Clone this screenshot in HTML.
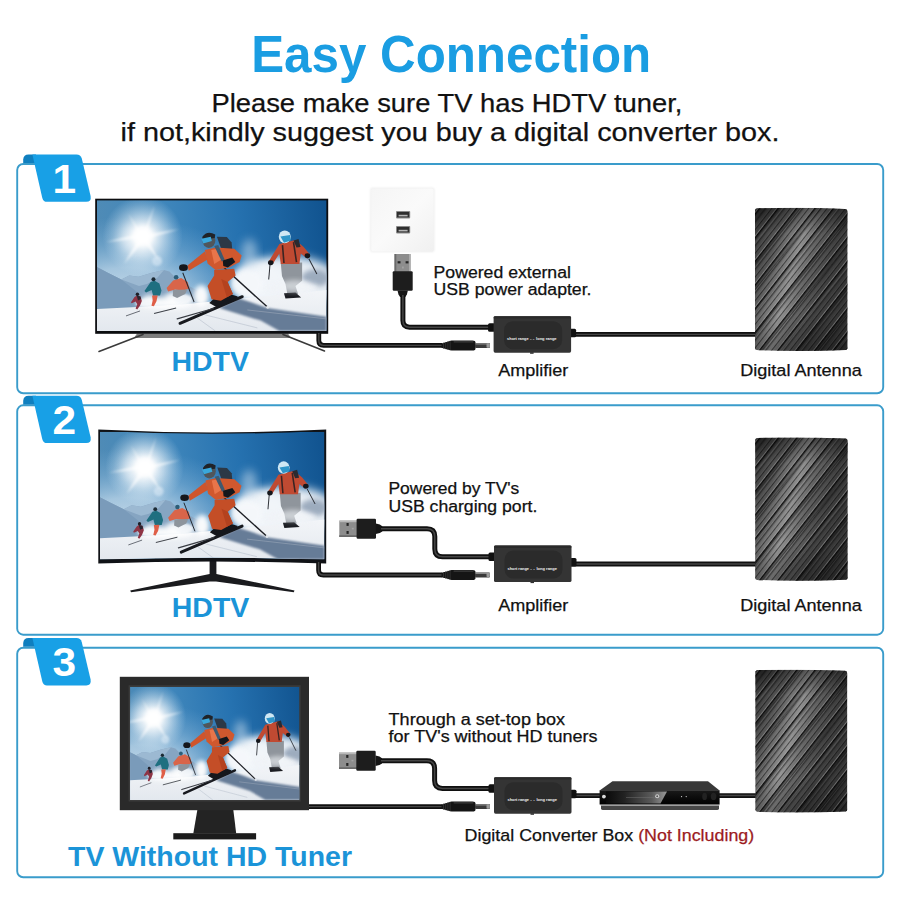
<!DOCTYPE html>
<html lang="en">
<head>
<meta charset="utf-8">
<title>Easy Connection</title>
<style>
html,body{margin:0;padding:0;background:#fff;}
body{width:900px;height:900px;overflow:hidden;}
svg{display:block;font-family:"Liberation Sans",sans-serif;}
</style>
</head>
<body>
<svg width="900" height="900" viewBox="0 0 900 900">
<defs>

<linearGradient id="sky" gradientUnits="userSpaceOnUse" x1="0" y1="20" x2="229" y2="-10">
 <stop offset="0" stop-color="#4f8bb6"/>
 <stop offset="0.3" stop-color="#3f86bb"/>
 <stop offset="0.6" stop-color="#2672b0"/>
 <stop offset="1" stop-color="#10528e"/>
</linearGradient>
<radialGradient id="hz" gradientUnits="userSpaceOnUse" cx="30" cy="105" r="140" gradientTransform="translate(0 38) scale(1 0.6)">
 <stop offset="0" stop-color="#c9dcea" stop-opacity="1"/>
 <stop offset="0.4" stop-color="#b4d0e5" stop-opacity="0.85"/>
 <stop offset="0.7" stop-color="#92bcdc" stop-opacity="0.4"/>
 <stop offset="1" stop-color="#7fb2da" stop-opacity="0"/>
</radialGradient>
<radialGradient id="sun" cx="0.5" cy="0.5" r="0.5">
 <stop offset="0" stop-color="#ffffff" stop-opacity="1"/>
 <stop offset="0.22" stop-color="#ffffff" stop-opacity="0.92"/>
 <stop offset="0.5" stop-color="#f2f8fc" stop-opacity="0.6"/>
 <stop offset="0.8" stop-color="#deedf7" stop-opacity="0.22"/>
 <stop offset="1" stop-color="#cfe5f5" stop-opacity="0"/>
</radialGradient>
<linearGradient id="snow" x1="0" y1="0" x2="0" y2="1">
 <stop offset="0" stop-color="#f3f5f8"/>
 <stop offset="1" stop-color="#e3e8ee"/>
</linearGradient>
<filter id="b1" x="-20%" y="-20%" width="140%" height="140%"><feGaussianBlur stdDeviation="1"/></filter>
<filter id="b2" x="-30%" y="-30%" width="160%" height="160%"><feGaussianBlur stdDeviation="2.5"/></filter>
<filter id="b4" x="-30%" y="-30%" width="160%" height="160%"><feGaussianBlur stdDeviation="5"/></filter>
<symbol id="scene" viewBox="0 0 229 131" preserveAspectRatio="none" overflow="hidden">
 <rect width="229" height="131" fill="url(#sky)"/>
 <rect width="229" height="131" fill="url(#hz)"/>
 <!-- sun -->
 <circle cx="45.6" cy="36" r="40" fill="url(#sun)"/>
 <ellipse cx="41" cy="39" rx="18" ry="14" fill="#ffffff" opacity="0.3" filter="url(#b4)"/>
 <path d="M45.600 36 L57.500 5 L49 34.500 L82 29 L50 38.500 L63 62 L46.500 41 L27 64 L42 38.500 L9 42 L42 34 L31 13 Z" fill="#ffffff" opacity="0.6" filter="url(#b1)"/>
 <path d="M45.600 36 L57.500 5 L49 34.500 L82 29 L50 38.500 L63 62 L46.500 41 L27 64 L42 38.500 L9 42 L42 34 L31 13 Z" fill="#ffffff" opacity="0.35" filter="url(#b2)"/>
 <circle cx="45.6" cy="36" r="9" fill="#ffffff" filter="url(#b2)"/>
 <circle cx="60" cy="61" r="5" fill="#e6f1fa" opacity="0.5" filter="url(#b1)"/>
 <!-- right haze / spray cloud -->
 <ellipse cx="190" cy="82" rx="52" ry="26" fill="#e9eff5" filter="url(#b4)"/>
 <ellipse cx="164" cy="82" rx="28" ry="20" fill="#f1f5f9" filter="url(#b4)"/>
 <ellipse cx="152" cy="55" rx="8" ry="16" fill="#cfe0ee" opacity="0.55" filter="url(#b4)"/>
 <ellipse cx="218" cy="78" rx="14" ry="9" fill="#8a9bb1" opacity="0.8" filter="url(#b2)"/>
 <!-- mountains -->
 <path d="M0 67 L10.900 72.700 L24.300 79.400 L32.300 75.400 L41.600 76.700 L54.900 72.700 L66.900 70 L72.300 71.400 L77.600 76.700 L92 86 L110 96 L110 112 L0 112 Z" fill="#86a5c2"/>
 <path d="M0 67 L10.900 72.700 L24.300 79.400 L37.600 90 L48 100 L52 110 L0 110 Z" fill="#7a9bba"/>
 <path d="M24.300 79.400 L32.300 75.400 L41.600 76.700 L54.900 72.700 L66.900 70 L60 78 L50 84 L42 86 Z" fill="#9cb9d2"/>
 <!-- snow ground -->
 <path d="M0 109 L40 107 L90 104 L130 100 L170 96 L229 90 L229 131 L0 131 Z" fill="url(#snow)"/>
 <!-- slope shadow -->
 <path d="M121.900 108.100 L141.900 98.100 L169.900 108.100 L229 116.700 L229 131 L181.900 131 L163.300 120.700 Z" fill="#667c97" filter="url(#b1)"/>
 <!-- spray -->
 <ellipse cx="68" cy="103" rx="29" ry="6" fill="#ffffff" opacity="0.95" filter="url(#b2)"/>
 <ellipse cx="52" cy="100" rx="6" ry="5" fill="#ffffff" opacity="0.75" filter="url(#b2)"/>
 <ellipse cx="76" cy="98" rx="8" ry="6" fill="#ffffff" opacity="0.8" filter="url(#b2)"/>
 <ellipse cx="104" cy="96" rx="7.500" ry="11" fill="#ffffff" opacity="0.95" filter="url(#b2)"/>
 <ellipse cx="86" cy="99" rx="9" ry="5" fill="#f4f7fa" opacity="0.9" filter="url(#b1)"/>
 <ellipse cx="47" cy="103" rx="8" ry="4" fill="#f4f7fa" opacity="0.85" filter="url(#b1)"/>
 <ellipse cx="150" cy="84" rx="16" ry="14" fill="#f5f8fb" opacity="0.9" filter="url(#b2)"/>
 <ellipse cx="195" cy="88" rx="26" ry="7" fill="#f0f3f7" opacity="0.95" filter="url(#b2)"/>
 <!-- small skiers -->
 <g>
  <path d="M37.500 97 L40 95.400 L43.600 96.500 L44.800 101 L43 105.500 L40.200 109.500 L38.600 108.600 L40.200 104.200 L38.600 101.600 L34.600 103.400 L34 102.200 Z" fill="#8e3445"/>
  <path d="M39.600 95.600 L43.300 96.400 L44 99 L41 100.500 Z" fill="#2a2530"/>
  <circle cx="40.400" cy="94.200" r="1.700" fill="#1d1d25"/>
  <path d="M29 116 L43 111" stroke="#5a5f68" stroke-width="0.9"/>
  <path d="M53.600 82 L57.500 80.800 L62.300 83.400 L64.400 90.400 L63 95.600 L56 95.800 L54.600 90 L49 92.400 L47.400 91 Z" fill="#1f6f80"/>
  <circle cx="56.400" cy="79.300" r="2" fill="#1c2a33"/>
  <path d="M55 95.600 L60.600 95.400 L59.400 101.400 L56.800 106.400 L54.400 105.800 L55.600 100.500 Z" fill="#df5f48"/>
  <path d="M69.500 88 L76 80.500 L84 78 L90.500 82 L92.300 88.500 L86 90.600 L78 89.500 L71 91.500 Z" fill="#d9654a"/>
  <circle cx="79" cy="77.200" r="2.300" fill="#2c5d77"/>
  <path d="M76 90 L90 89.400 L88 94 L80 98 L75.600 96 Z" fill="#8d949c"/>
  <path d="M85.600 72.700 L96.900 102" stroke="#23262d" stroke-width="1"/>
  <path d="M57 113.500 L79 108" stroke="#3d4148" stroke-width="1"/>
 </g>
 <!-- main skier -->
 <g>
  <path d="M82.900 123.400 L144.900 96.700" stroke="#17191e" stroke-width="3" stroke-linecap="round"/>
  <path d="M80 119 L116 108.500" stroke="#3a3d44" stroke-width="1.200" stroke-linecap="round"/>
  <path d="M124.900 66 L170.300 107.400" stroke="#1c1e24" stroke-width="1.400"/>
  <circle cx="170.300" cy="107.400" r="1.500" fill="#dfe4ea"/>
  <path d="M112 103 L118 97.500 L128 96 L134 94.500 L140.500 96.600 L137.500 100.800 L120 107.500 Z" fill="#15171c"/>
  <path d="M116.900 70 L136.900 68.700 L138.300 75.400 L130.300 82 L135.600 94 L123.600 100.700 L114.300 99.400 L110.300 86 L116.900 75.400 Z" fill="#c44e27"/>
  <path d="M124 79 L130.300 82 L135.600 94 L129.500 97.300 Z" fill="#b4421f"/>
  <path d="M119.600 36.700 L129.500 37 L134.300 42.500 L135 50 L124 49 Z" fill="#2c3846"/>
  <path d="M107.600 50 L118.300 47.400 L137 48.700 L144.300 55.400 L142.300 62 L131.600 67.400 L118.300 70 L110.300 63.400 Z" fill="#d0582e"/>
  <path d="M114 50 L122 48.500 L125 59 L117 64 Z" fill="#e8754a"/>
  <path d="M117 46 L121 45 L127.500 60 L124.500 61.500 Z" fill="#3e5a70"/>
  <path d="M107.600 51.400 L110.300 59.400 L91.600 70.700 L90.300 65.400 Z" fill="#cf552c"/>
  <ellipse cx="86.300" cy="67.600" rx="4.400" ry="3.300" fill="#15171c"/>
  <path d="M125.500 60.500 L135 57.500 L138 62 L130.500 67.500 L126 66 Z" fill="#15171c"/>
  <ellipse cx="111.600" cy="40.500" rx="6.500" ry="7.300" fill="#50565b"/>
  <path d="M105 37 Q110 29.500 118 34.500 L117.500 38 L105.500 39.500 Z" fill="#202328"/>
  <path d="M104.200 38.600 L113.500 36.600 L114.600 41 L106 43.400 Z" fill="#3aa8dc"/>
 </g>
 <!-- right skier -->
 <g>
  <path d="M172.600 64 L171.300 79.400" stroke="#2a2d33" stroke-width="1"/>
  <path d="M211.300 58.700 L219.300 74" stroke="#2a2d33" stroke-width="1"/>
  <path d="M183.300 63 L204.600 62.500 L204.600 80.700 L198 86 L200.600 94 L190 94.500 L188 84 L184.500 76 Z" fill="#8f959c"/>
  <path d="M186.500 93.200 L198 92.600 L203.600 97.600 L188 98.600 Z" fill="#1b1d22"/>
  <path d="M181.900 44 L197.900 40 L205.900 46.700 L212.600 54.700 L209.900 58.700 L203.300 53.400 L201.900 64 L183.300 64 L181.900 53.400 L175.300 64 L171.300 61.400 Z" fill="#c04a32"/>
  <path d="M185 45 L186.500 63 M196 42 L199 62" stroke="#3b2422" stroke-width="1.600"/>
  <path d="M196 40.500 L201 39 L203 47 L199 47.500 Z" fill="#2a2a30"/>
  <ellipse cx="187.300" cy="36.700" rx="6" ry="6.400" fill="#cfe7f3"/>
  <path d="M183 36.500 L192.500 35 L193.300 40.500 L186.500 42.600 Z" fill="#2f95c8"/>
  <ellipse cx="173.300" cy="62.700" rx="2.800" ry="2.500" fill="#15171c"/>
  <ellipse cx="209.900" cy="55.700" rx="2.800" ry="2.500" fill="#15171c"/>
 </g>
 <ellipse cx="197" cy="86" rx="15" ry="6" fill="#f2f5f8" opacity="0.6" filter="url(#b2)"/>
 <!-- tracks -->
 <path d="M108 115 L160 128 M100 118 L118 131 M150 110 L229 119" stroke="#aab4c2" stroke-width="0.600" fill="none" opacity="0.8"/>
</symbol>

<clipPath id="tv2clip"><path d="M99.9 431.0 Q212 436.6 324.6 431.0 L324.6 559.6 Q212 555.8 99.9 559.6 Z"/></clipPath>
<clipPath id="tv3clip"><rect x="130.1" y="686.7" width="169.1" height="113.3"/></clipPath>

<linearGradient id="antg" gradientUnits="userSpaceOnUse" x1="-5" y1="55" x2="95" y2="85">
 <stop offset="0" stop-color="#444444"/>
 <stop offset="0.18" stop-color="#5a5a5a"/>
 <stop offset="0.42" stop-color="#969696"/>
 <stop offset="0.56" stop-color="#666666"/>
 <stop offset="0.74" stop-color="#424242"/>
 <stop offset="1" stop-color="#343434"/>
</linearGradient>
<linearGradient id="antv" x1="0" y1="0" x2="0" y2="1">
 <stop offset="0" stop-color="#000" stop-opacity="0.4"/>
 <stop offset="0.18" stop-color="#000" stop-opacity="0.05"/>
 <stop offset="0.75" stop-color="#000" stop-opacity="0"/>
 <stop offset="1" stop-color="#000" stop-opacity="0.3"/>
</linearGradient>
<pattern id="antp" width="14.6" height="40" patternUnits="userSpaceOnUse" patternTransform="rotate(38) translate(3 0)">
 <rect x="0" y="0" width="0.8" height="40" fill="#ffffff" opacity="0.5"/>
 <rect x="0.8" y="0" width="1.7" height="40" fill="#050505" opacity="0.92"/>
 <rect x="2.5" y="0" width="2.5" height="40" fill="#000" opacity="0.18"/>
 <rect x="5.6" y="0" width="0.5" height="40" fill="#fff" opacity="0.22"/>
 <rect x="6.1" y="0" width="1" height="40" fill="#000" opacity="0.7"/>
 <rect x="10.4" y="0" width="0.4" height="40" fill="#fff" opacity="0.15"/>
 <rect x="10.8" y="0" width="0.9" height="40" fill="#000" opacity="0.55"/>
</pattern>
<pattern id="antp2" width="43.8" height="40" patternUnits="userSpaceOnUse" patternTransform="rotate(39) translate(3 0)">
 <rect x="5" y="0" width="0.8" height="40" fill="#000" opacity="0.45"/>
 <rect x="19.5" y="0" width="0.5" height="40" fill="#e8e8e8" opacity="0.3"/>
 <rect x="33" y="0" width="0.9" height="40" fill="#000" opacity="0.4"/>
</pattern>
<symbol id="ant" viewBox="0 0 94 144" preserveAspectRatio="none">
 <clipPath id="antc"><path d="M0.6 2.2 Q1 0.8 3 0.7 Q47 -0.5 91 1.4 Q93.4 1.6 93.4 3.5 L93.4 141 Q93.4 142.6 91.5 142.8 Q47 144.6 2.5 142.9 Q0.6 142.8 0.6 141 Z"/></clipPath>
 <g clip-path="url(#antc)">
  <rect width="94" height="144" fill="url(#antg)"/>
  <rect width="94" height="144" fill="url(#antp)"/>
  <rect width="94" height="144" fill="url(#antp2)"/>
  <rect width="94" height="144" fill="url(#antv)"/>
 </g>
</symbol>


<linearGradient id="wallg" x1="0" y1="0" x2="1" y2="1">
 <stop offset="0" stop-color="#f5f5f5"/>
 <stop offset="0.5" stop-color="#fafafa"/>
 <stop offset="1" stop-color="#f0f0f0"/>
</linearGradient>
<filter id="ws" x="-10%" y="-10%" width="120%" height="120%"><feGaussianBlur stdDeviation="0.8"/></filter>


<linearGradient id="boxgl" x1="0" y1="0" x2="1" y2="0">
 <stop offset="0" stop-color="#0a0a0a"/>
 <stop offset="0.3" stop-color="#222"/>
 <stop offset="0.75" stop-color="#5a5a5a"/>
 <stop offset="1" stop-color="#9a9a9a"/>
</linearGradient>
<linearGradient id="boxg" x1="0" y1="0" x2="0" y2="1">
 <stop offset="0" stop-color="#1a1a1a"/>
 <stop offset="0.5" stop-color="#0c0c0c"/>
 <stop offset="1" stop-color="#000"/>
</linearGradient>

</defs>
<rect width="900" height="900" fill="#ffffff"/>
<text x="251.2" y="71.8" font-size="52" font-weight="700" fill="#1a9de2" text-anchor="start" textLength="400" lengthAdjust="spacingAndGlyphs">Easy Connection</text>
<text x="211.4" y="112.3" font-size="26.5" font-weight="400" fill="#111" stroke="#111" stroke-width="0.25" text-anchor="start" textLength="471" lengthAdjust="spacingAndGlyphs">Please make sure TV has HDTV tuner,</text>
<text x="120.6" y="140.5" font-size="26.5" font-weight="400" fill="#111" stroke="#111" stroke-width="0.25" text-anchor="start" textLength="658.9" lengthAdjust="spacingAndGlyphs">if not,kindly suggest you buy a digital converter box.</text>
<rect x="17.2" y="164.0" width="866.0" height="229.3" rx="6" ry="6" fill="#ffffff" stroke="#3a9ccb" stroke-width="1.9"/>
<path d="M23.2 163.1 L23.2 159.4 Q23.6 154.4 28.5 154.4 L36 154.4 L36 163.1 Z" fill="#0f7fbf"/>
<path d="M32.4 154.4 L76.5 154.4 Q80.6 154.4 81.8 158.6 L90.6 195.9 Q91.6 201.8 86.2 201.8 L47 201.8 Q43.4 201.8 42.3 197.9 Z" fill="#18a0e6"/>
<text x="64.2" y="192.6" font-size="40" font-weight="700" fill="#ffffff" text-anchor="middle" textLength="23.6" lengthAdjust="spacingAndGlyphs">1</text>
<rect x="17.2" y="405.3" width="866.0" height="229.4" rx="6" ry="6" fill="#ffffff" stroke="#3a9ccb" stroke-width="1.9"/>
<path d="M23.2 404.4 L23.2 400.7 Q23.6 395.7 28.5 395.7 L36 395.7 L36 404.4 Z" fill="#0f7fbf"/>
<path d="M32.4 395.7 L76.5 395.7 Q80.6 395.7 81.8 399.9 L90.6 437.2 Q91.6 443.1 86.2 443.1 L47 443.1 Q43.4 443.1 42.3 439.2 Z" fill="#18a0e6"/>
<text x="64.2" y="433.9" font-size="40" font-weight="700" fill="#ffffff" text-anchor="middle" textLength="23.6" lengthAdjust="spacingAndGlyphs">2</text>
<rect x="17.2" y="647.7" width="866.0" height="229.6" rx="6" ry="6" fill="#ffffff" stroke="#3a9ccb" stroke-width="1.9"/>
<path d="M23.2 646.8 L23.2 643.1 Q23.6 638.1 28.5 638.1 L36 638.1 L36 646.8 Z" fill="#0f7fbf"/>
<path d="M32.4 638.1 L76.5 638.1 Q80.6 638.1 81.8 642.3 L90.6 679.6 Q91.6 685.5 86.2 685.5 L47 685.5 Q43.4 685.5 42.3 681.6 Z" fill="#18a0e6"/>
<text x="64.2" y="676.3" font-size="40" font-weight="700" fill="#ffffff" text-anchor="middle" textLength="23.6" lengthAdjust="spacingAndGlyphs">3</text>
<g>
<path d="M137 333.6 L288 333.6 L291 338 L134 338 Z" fill="#7d7d7d"/>
<path d="M143 334.5 L99 351.5" stroke="#3a3a3a" stroke-width="1.6" stroke-linecap="round"/>
<path d="M283 334.5 L324.5 351" stroke="#3a3a3a" stroke-width="1.6" stroke-linecap="round"/>
<rect x="95.2" y="198.7" width="233" height="135.1" fill="#0c0d10"/>
<use href="#scene" x="96.9" y="200.2" width="229.7" height="130.7"/>
</g>
<text x="171.4" y="371.1" font-size="28.4" font-weight="700" fill="#1b94d8" text-anchor="start" textLength="77.5" lengthAdjust="spacingAndGlyphs">HDTV</text>
<g>
<rect x="370.4" y="187.8" width="64" height="64.2" rx="2" fill="#ededed" filter="url(#ws)"/>
<rect x="371.2" y="188.4" width="62.4" height="63" rx="2" fill="url(#wallg)"/>
<rect x="396" y="211.0" width="14.2" height="7.4" rx="0.8" fill="#8a8a8a"/>
<rect x="397" y="212.0" width="12.2" height="5.4" fill="#2e2e2e"/>
<rect x="398.6" y="214.79999999999998" width="9" height="1.6" fill="#b5b5b5"/>
<rect x="396" y="226.0" width="14.2" height="7.4" rx="0.8" fill="#8a8a8a"/>
<rect x="397" y="227.0" width="12.2" height="5.4" fill="#2e2e2e"/>
<rect x="398.6" y="229.79999999999998" width="9" height="1.6" fill="#b5b5b5"/>
</g>
<g transform="translate(402.7,254) rotate(90)">
<rect x="0" y="-8.2" width="18" height="16.4" fill="#8d8d8d"/>
<rect x="0" y="-8.2" width="18" height="1.6" fill="#b9b9b9"/>
<rect x="0" y="6.4" width="18" height="1.8" fill="#6a6a6a"/>
<rect x="7.2" y="-5.8" width="2.2" height="2.9" fill="#262626"/>
<rect x="7.2" y="2.2" width="2.2" height="2.9" fill="#262626"/>
<rect x="12.5" y="-1" width="2" height="1.6" fill="#a5a5a5"/>
<rect x="17.3" y="-10" width="19.4" height="20" rx="1.2" fill="#1d1d1d"/>
<path d="M36.5 -5.2 L40.5 -4.2 L43 -2.6 L43 2.6 L40.5 4.2 L36.5 5.2 Z" fill="#151515"/>
</g>
<path d="M402.9 295 V320.6 Q402.9 327.2 409.5 327.2 H494" fill="none" stroke="#101010" stroke-width="5.0" stroke-linejoin="round" stroke-linecap="butt"/>
<path d="M402.9 295 V320.6 Q402.9 327.2 409.5 327.2 H494" fill="none" stroke="#454545" stroke-width="1.50" stroke-linejoin="round" stroke-linecap="butt"/>
<path d="M318.8 333 V340.6 Q318.8 345.4 323.6 345.4 H442" fill="none" stroke="#101010" stroke-width="4.8" stroke-linejoin="round" stroke-linecap="butt"/>
<path d="M318.8 333 V340.6 Q318.8 345.4 323.6 345.4 H442" fill="none" stroke="#454545" stroke-width="1.44" stroke-linejoin="round" stroke-linecap="butt"/>
<g transform="translate(441.5,345.6)">
<path d="M0 -2.2 L5 -3.6 L10 -5 L31 -5 Q34 -5 34 -3 L34 3 Q34 5 31 5 L10 5 L5 3.6 L0 2.2 Z" fill="#151515"/>
<path d="M2 -3 L2 3 M4.2 -3.6 L4.2 3.6 M6.4 -4.2 L6.4 4.2 M8.600 -4.800 L8.600 4.800" stroke="#3c3c3c" stroke-width="0.7"/>
<rect x="33.5" y="-2.5" width="15" height="5" rx="1" fill="#3a3a3a"/>
<rect x="34" y="-2.3" width="14" height="1.3" rx="0.5" fill="#8a8a8a"/>
<rect x="45" y="-2.3" width="3.4" height="4.4" rx="0.8" fill="#9a9a9a"/>
<rect x="12" y="-4.4" width="20" height="1.2" rx="0.6" fill="#3d3d3d"/>
</g>
<path d="M572 334.4 H756" fill="none" stroke="#101010" stroke-width="4.8" stroke-linejoin="round" stroke-linecap="butt"/>
<path d="M572 334.4 H756" fill="none" stroke="#454545" stroke-width="1.44" stroke-linejoin="round" stroke-linecap="butt"/>
<g transform="translate(493.6,316.2)">
<rect x="-5.5" y="7" width="7" height="8.5" rx="1.5" fill="#111"/>
<rect x="76" y="12.6" width="6.5" height="8.5" rx="1.5" fill="#111"/>
<rect x="0" y="0" width="77.5" height="36.5" rx="1.6" fill="#343434"/>
<rect x="0" y="0" width="77.5" height="2.4" rx="1.2" fill="#2a2a2a"/>
<rect x="10.500" y="5" width="58" height="28" rx="9" fill="#2b2b2b"/>
<text x="13.5" y="24" font-size="3.8" font-weight="700" fill="#f2f2f2" textLength="21.500" lengthAdjust="spacingAndGlyphs">short range</text>
<text x="36.3" y="24" font-size="3.8" font-weight="700" fill="#f2f2f2" textLength="4.500" lengthAdjust="spacingAndGlyphs">- -</text>
<text x="42.5" y="24" font-size="3.8" font-weight="700" fill="#f2f2f2" textLength="20.500" lengthAdjust="spacingAndGlyphs">long range</text>
<rect x="36.5" y="36" width="3.5" height="1.6" fill="#333"/>
</g>
<use href="#ant" x="754.4" y="207.6" width="93.6" height="143.6"/>
<text x="433.6" y="277.6" font-size="16" font-weight="400" fill="#111" stroke="#111" stroke-width="0.25" text-anchor="start" textLength="137.3" lengthAdjust="spacingAndGlyphs">Powered external</text>
<text x="433.6" y="294.5" font-size="16" font-weight="400" fill="#111" stroke="#111" stroke-width="0.25" text-anchor="start" textLength="157.9" lengthAdjust="spacingAndGlyphs">USB power adapter.</text>
<text x="498.2" y="375.9" font-size="16.8" font-weight="400" fill="#111" stroke="#111" stroke-width="0.25" text-anchor="start" textLength="70.2" lengthAdjust="spacingAndGlyphs">Amplifier</text>
<text x="740.2" y="376.2" font-size="16.8" font-weight="400" fill="#111" stroke="#111" stroke-width="0.25" text-anchor="start" textLength="121.6" lengthAdjust="spacingAndGlyphs">Digital Antenna</text>
<g>
<path d="M209.6 560 L216.4 560 L216.4 574 L294.5 590.6 L293.8 592.2 L216 581.5 L209.6 581.5 L131 592.2 L130.2 590.6 L209.6 574 Z" fill="#1a1b1e"/>
<path d="M98.3 429.6 Q212 435.4 326.2 429.6 L326.2 563.6 Q212 559.6 98.3 563.6 Z" fill="#101216"/>
<g clip-path="url(#tv2clip)">
<use href="#scene" x="99.9" y="431.8" width="224.7" height="127.8"/>
</g>
</g>
<text x="171.8" y="617.0" font-size="28.4" font-weight="700" fill="#1b94d8" text-anchor="start" textLength="77.5" lengthAdjust="spacingAndGlyphs">HDTV</text>
<g transform="translate(339.3,528.8) rotate(0)">
<rect x="0" y="-8.2" width="18" height="16.4" fill="#8d8d8d"/>
<rect x="0" y="-8.2" width="18" height="1.6" fill="#b9b9b9"/>
<rect x="0" y="6.4" width="18" height="1.8" fill="#6a6a6a"/>
<rect x="7.2" y="-5.8" width="2.2" height="2.9" fill="#262626"/>
<rect x="7.2" y="2.2" width="2.2" height="2.9" fill="#262626"/>
<rect x="12.5" y="-1" width="2" height="1.6" fill="#a5a5a5"/>
<rect x="17.3" y="-10" width="19.4" height="20" rx="1.2" fill="#1d1d1d"/>
<path d="M36.5 -5.2 L40.5 -4.2 L43 -2.6 L43 2.6 L40.5 4.2 L36.5 5.2 Z" fill="#151515"/>
</g>
<path d="M381 528.8 H427 Q434.8 528.8 434.8 536.6 V549 Q434.8 556.8 442.6 556.8 H494" fill="none" stroke="#101010" stroke-width="5.0" stroke-linejoin="round" stroke-linecap="butt"/>
<path d="M381 528.8 H427 Q434.8 528.8 434.8 536.6 V549 Q434.8 556.8 442.6 556.8 H494" fill="none" stroke="#454545" stroke-width="1.50" stroke-linejoin="round" stroke-linecap="butt"/>
<path d="M318.6 562 V570.2 Q318.6 575 323.4 575 H442" fill="none" stroke="#101010" stroke-width="4.8" stroke-linejoin="round" stroke-linecap="butt"/>
<path d="M318.6 562 V570.2 Q318.6 575 323.4 575 H442" fill="none" stroke="#454545" stroke-width="1.44" stroke-linejoin="round" stroke-linecap="butt"/>
<g transform="translate(441.5,575)">
<path d="M0 -2.2 L5 -3.6 L10 -5 L31 -5 Q34 -5 34 -3 L34 3 Q34 5 31 5 L10 5 L5 3.6 L0 2.2 Z" fill="#151515"/>
<path d="M2 -3 L2 3 M4.2 -3.6 L4.2 3.6 M6.4 -4.2 L6.4 4.2 M8.600 -4.800 L8.600 4.800" stroke="#3c3c3c" stroke-width="0.7"/>
<rect x="33.5" y="-2.5" width="15" height="5" rx="1" fill="#3a3a3a"/>
<rect x="34" y="-2.3" width="14" height="1.3" rx="0.5" fill="#8a8a8a"/>
<rect x="45" y="-2.3" width="3.4" height="4.4" rx="0.8" fill="#9a9a9a"/>
<rect x="12" y="-4.4" width="20" height="1.2" rx="0.6" fill="#3d3d3d"/>
</g>
<path d="M571 564.0 H756" fill="none" stroke="#101010" stroke-width="4.8" stroke-linejoin="round" stroke-linecap="butt"/>
<path d="M571 564.0 H756" fill="none" stroke="#454545" stroke-width="1.44" stroke-linejoin="round" stroke-linecap="butt"/>
<g transform="translate(494,545.5)">
<rect x="-5.5" y="7" width="7" height="8.5" rx="1.5" fill="#111"/>
<rect x="76" y="12.6" width="6.5" height="8.5" rx="1.5" fill="#111"/>
<rect x="0" y="0" width="77.5" height="36.5" rx="1.6" fill="#343434"/>
<rect x="0" y="0" width="77.5" height="2.4" rx="1.2" fill="#2a2a2a"/>
<rect x="10.500" y="5" width="58" height="28" rx="9" fill="#2b2b2b"/>
<text x="13.5" y="24" font-size="3.8" font-weight="700" fill="#f2f2f2" textLength="21.500" lengthAdjust="spacingAndGlyphs">short range</text>
<text x="36.3" y="24" font-size="3.8" font-weight="700" fill="#f2f2f2" textLength="4.500" lengthAdjust="spacingAndGlyphs">- -</text>
<text x="42.5" y="24" font-size="3.8" font-weight="700" fill="#f2f2f2" textLength="20.500" lengthAdjust="spacingAndGlyphs">long range</text>
<rect x="36.5" y="36" width="3.5" height="1.6" fill="#333"/>
</g>
<use href="#ant" x="754.6" y="437.2" width="93.6" height="143.8"/>
<text x="388.5" y="494.4" font-size="16" font-weight="400" fill="#111" stroke="#111" stroke-width="0.25" text-anchor="start" textLength="130.8" lengthAdjust="spacingAndGlyphs">Powered by TV's</text>
<text x="388.5" y="511.6" font-size="16" font-weight="400" fill="#111" stroke="#111" stroke-width="0.25" text-anchor="start" textLength="148.8" lengthAdjust="spacingAndGlyphs">USB charging port.</text>
<text x="498.2" y="610.8" font-size="16.8" font-weight="400" fill="#111" stroke="#111" stroke-width="0.25" text-anchor="start" textLength="70.2" lengthAdjust="spacingAndGlyphs">Amplifier</text>
<text x="740.2" y="611" font-size="16.8" font-weight="400" fill="#111" stroke="#111" stroke-width="0.25" text-anchor="start" textLength="121.6" lengthAdjust="spacingAndGlyphs">Digital Antenna</text>
<g>
<path d="M197.5 809 L233.2 809 L236.2 833.6 L193.3 833.6 Z" fill="#232323"/>
<rect x="173.3" y="833.2" width="82.8" height="6.2" fill="#1c1c1c"/>
<rect x="119.8" y="676.8" width="189.2" height="133.4" fill="#2a2a2a"/>
<rect x="128.6" y="685.2" width="172.1" height="116.3" fill="#3a3a3a"/>
<g clip-path="url(#tv3clip)">
<use href="#scene" x="116.1" y="686.7" width="187.8" height="113.3"/>
</g>
</g>
<text x="68.0" y="866" font-size="28.4" font-weight="700" fill="#1b94d8" text-anchor="start" textLength="284" lengthAdjust="spacingAndGlyphs">TV Without HD Tuner</text>
<g transform="translate(339,760.8) rotate(0)">
<rect x="0" y="-8.2" width="18" height="16.4" fill="#8d8d8d"/>
<rect x="0" y="-8.2" width="18" height="1.6" fill="#b9b9b9"/>
<rect x="0" y="6.4" width="18" height="1.8" fill="#6a6a6a"/>
<rect x="7.2" y="-5.8" width="2.2" height="2.9" fill="#262626"/>
<rect x="7.2" y="2.2" width="2.2" height="2.9" fill="#262626"/>
<rect x="12.5" y="-1" width="2" height="1.6" fill="#a5a5a5"/>
<rect x="17.3" y="-10" width="19.4" height="20" rx="1.2" fill="#1d1d1d"/>
<path d="M36.5 -5.2 L40.5 -4.2 L43 -2.6 L43 2.6 L40.5 4.2 L36.5 5.2 Z" fill="#151515"/>
</g>
<path d="M381 760.8 H426.8 Q434.6 760.8 434.6 768.6 V780.6 Q434.6 788.4 442.4 788.4 H494" fill="none" stroke="#101010" stroke-width="5.0" stroke-linejoin="round" stroke-linecap="butt"/>
<path d="M381 760.8 H426.8 Q434.6 760.8 434.6 768.6 V780.6 Q434.6 788.4 442.4 788.4 H494" fill="none" stroke="#454545" stroke-width="1.50" stroke-linejoin="round" stroke-linecap="butt"/>
<path d="M309 806.6 H442" fill="none" stroke="#101010" stroke-width="4.8" stroke-linejoin="round" stroke-linecap="butt"/>
<path d="M309 806.6 H442" fill="none" stroke="#454545" stroke-width="1.44" stroke-linejoin="round" stroke-linecap="butt"/>
<g transform="translate(441.5,806.6)">
<path d="M0 -2.2 L5 -3.6 L10 -5 L31 -5 Q34 -5 34 -3 L34 3 Q34 5 31 5 L10 5 L5 3.6 L0 2.2 Z" fill="#151515"/>
<path d="M2 -3 L2 3 M4.2 -3.6 L4.2 3.6 M6.4 -4.2 L6.4 4.2 M8.600 -4.800 L8.600 4.800" stroke="#3c3c3c" stroke-width="0.7"/>
<rect x="33.5" y="-2.5" width="15" height="5" rx="1" fill="#3a3a3a"/>
<rect x="34" y="-2.3" width="14" height="1.3" rx="0.5" fill="#8a8a8a"/>
<rect x="45" y="-2.3" width="3.4" height="4.4" rx="0.8" fill="#9a9a9a"/>
<rect x="12" y="-4.4" width="20" height="1.2" rx="0.6" fill="#3d3d3d"/>
</g>
<path d="M571 795.6 H756" fill="none" stroke="#101010" stroke-width="4.9" stroke-linejoin="round" stroke-linecap="butt"/>
<path d="M571 795.6 H756" fill="none" stroke="#454545" stroke-width="1.47" stroke-linejoin="round" stroke-linecap="butt"/>
<g transform="translate(494,777.2)">
<rect x="-5.5" y="7" width="7" height="8.5" rx="1.5" fill="#111"/>
<rect x="76" y="12.6" width="6.5" height="8.5" rx="1.5" fill="#111"/>
<rect x="0" y="0" width="77.5" height="36.5" rx="1.6" fill="#343434"/>
<rect x="0" y="0" width="77.5" height="2.4" rx="1.2" fill="#2a2a2a"/>
<rect x="10.500" y="5" width="58" height="28" rx="9" fill="#2b2b2b"/>
<text x="13.5" y="24" font-size="3.8" font-weight="700" fill="#f2f2f2" textLength="21.500" lengthAdjust="spacingAndGlyphs">short range</text>
<text x="36.3" y="24" font-size="3.8" font-weight="700" fill="#f2f2f2" textLength="4.500" lengthAdjust="spacingAndGlyphs">- -</text>
<text x="42.5" y="24" font-size="3.8" font-weight="700" fill="#f2f2f2" textLength="20.500" lengthAdjust="spacingAndGlyphs">long range</text>
<rect x="36.5" y="36" width="3.5" height="1.6" fill="#333"/>
</g>
<g>
<path d="M601 805 L719 805 L719 808.6 Q719 810 717.4 810 L602.6 810 Q601 810 601 808.6 Z" fill="#474747"/>
<rect x="600.4" y="804.4" width="119" height="1.3" fill="#c4c4c4"/>
<path d="M612.5 781.2 L708 781.2 L719.6 790.4 L599.6 790.4 Z" fill="#383838"/>
<path d="M599.6 790.2 L719.6 790.2 L719.6 804.6 L599.6 804.6 Z" fill="url(#boxg)"/>
<path d="M606 791.4 L667 791.4 L660.5 803.4 L606 803.4 Z" fill="url(#boxgl)"/>
<path d="M626 797.4 L654 797.4" stroke="#777" stroke-width="0.7" opacity="0.7"/>
<circle cx="603.9" cy="796.6" r="1.9" fill="#dcdcdc"/>
<circle cx="657.2" cy="796.200" r="2" fill="#d0d0d0"/><circle cx="657.2" cy="796.200" r="1" fill="#555"/>
<circle cx="681.600" cy="796.600" r="0.600" fill="#ddd"/><circle cx="686.200" cy="796.600" r="0.600" fill="#ddd"/>
<ellipse cx="704.600" cy="796.400" rx="2.400" ry="3.600" fill="#222"/><ellipse cx="713.600" cy="796.400" rx="2.800" ry="3.600" fill="#222"/>
</g>
<use href="#ant" x="754.8" y="669.4" width="93" height="143.4"/>
<text x="388.6" y="725.0" font-size="16" font-weight="400" fill="#111" stroke="#111" stroke-width="0.25" text-anchor="start" textLength="176.4" lengthAdjust="spacingAndGlyphs">Through a set-top box</text>
<text x="388.6" y="741.9" font-size="16" font-weight="400" fill="#111" stroke="#111" stroke-width="0.25" text-anchor="start" textLength="208.9" lengthAdjust="spacingAndGlyphs">for TV's without HD tuners</text>
<text x="464.6" y="841.0" font-size="17" fill="#111" stroke="#111" stroke-width="0.25" textLength="289.6" lengthAdjust="spacingAndGlyphs">Digital Converter Box <tspan fill="#9c1b1e" stroke="#9c1b1e">(Not Including)</tspan></text>
</svg>
</body>
</html>
